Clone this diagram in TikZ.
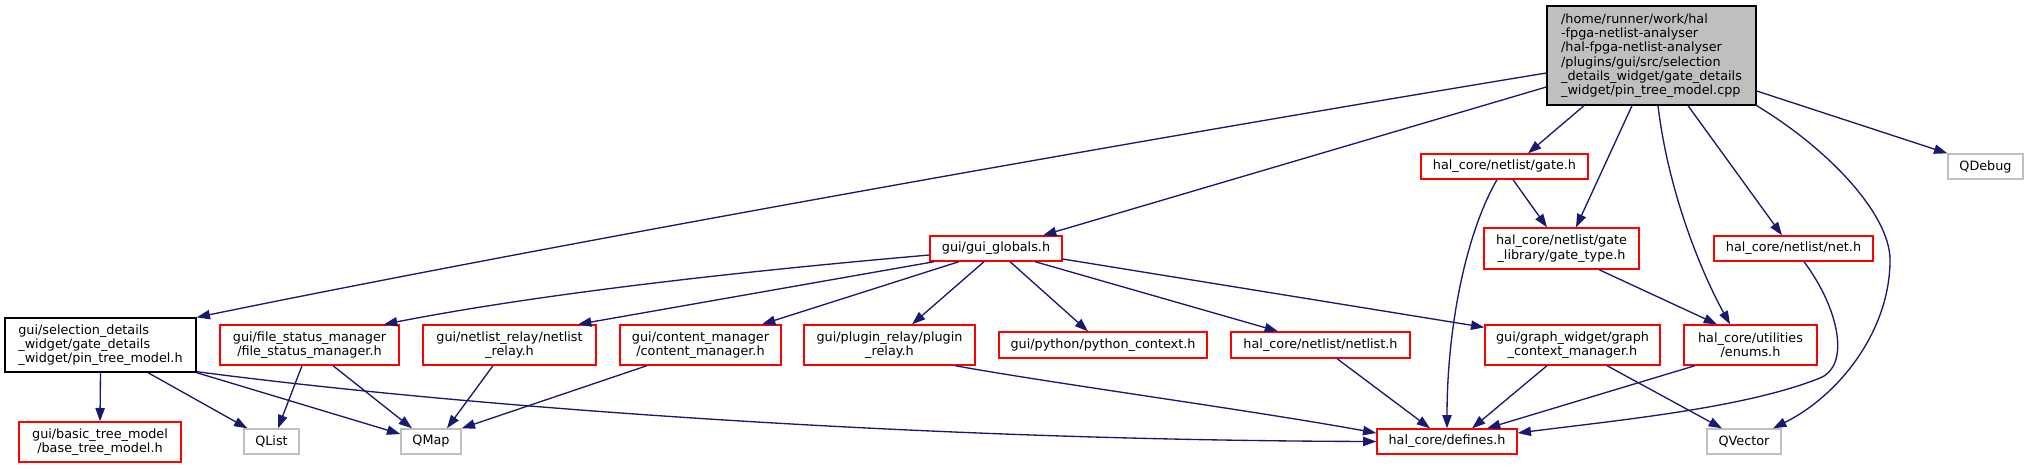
\documentclass[tikz,border=0pt]{standalone}
\usepackage{fontspec}
\setmainfont{DejaVu Sans}
\usetikzlibrary{arrows.meta,calc}
\definecolor{edgeblue}{HTML}{191970}
\definecolor{nodered}{HTML}{FF0000}
\definecolor{nodegray}{HTML}{BFBFBF}
\begin{document}
\begin{tikzpicture}[x=0.75pt,y=-0.75pt,
  every node/.style={font=\fontsize{9.6pt}{10.75pt}\selectfont, inner sep=0pt, line width=1pt},
  sz/.style 2 args={minimum width=#1*0.75pt, minimum height=#2*0.75pt},
  rbox/.style={draw=nodered, fill=white},
  gbox/.style={draw=nodegray, fill=white},
  kbox/.style={draw=black, fill=white},
  rootbox/.style={draw=black, fill=nodegray},
  dep/.style={draw=edgeblue, line width=1pt, -{Triangle[length=10pt,width=7pt]}}]
\useasboundingbox (0,0) rectangle (2029,468);

% nodes
\node[rootbox, sz={209}{99}, align=left] (root) at (1651.5,55.5) {/home/runner/work/hal\\-fpga-netlist-analyser\\/hal-fpga-netlist-analyser\\/plugins/gui/src/selection\\\_details\_widget/gate\_details\\\_widget/pin\_tree\_model.cpp};
\node[kbox, sz={191}{54}, align=left] (pin) at (100.5,345) {gui/selection\_details\\\_widget/gate\_details\\\_widget/pin\_tree\_model.h};
\node[rbox, sz={179}{40}, align=center] (fsm) at (309.5,345) {gui/file\_status\_manager\\/file\_status\_manager.h};
\node[rbox, sz={173}{40}, align=center] (nrelay) at (509.5,345) {gui/netlist\_relay/netlist\\\_relay.h};
\node[rbox, sz={161}{40}, align=center] (cman) at (700.5,345) {gui/content\_manager\\/content\_manager.h};
\node[rbox, sz={171}{40}, align=center] (prelay) at (889.5,345) {gui/plugin\_relay/plugin\\\_relay.h};
\node[rbox, sz={208}{26}] (pyctx) at (1103,345) {gui/python/python\_context.h};
\node[rbox, sz={179}{26}] (netlist) at (1320.5,345) {hal\_core/netlist/netlist.h};
\node[rbox, sz={175}{40}, align=center] (gctx) at (1572.5,345) {gui/graph\_widget/graph\\\_context\_manager.h};
\node[rbox, sz={133}{40}, align=center] (enums) at (1750.5,345) {hal\_core/utilities\\/enums.h};
\node[rbox, sz={132}{25}] (globals) at (996,248.5) {gui/gui\_globals.h};
\node[rbox, sz={167}{25}] (gate) at (1504.5,166.5) {hal\_core/netlist/gate.h};
\node[rbox, sz={155}{41}, align=center] (gtype) at (1561.5,248.5) {hal\_core/netlist/gate\\\_library/gate\_type.h};
\node[rbox, sz={159}{25}] (net) at (1793.5,248.5) {hal\_core/netlist/net.h};
\node[gbox, sz={75}{25}] (qdebug) at (1985.5,166.5) {QDebug};
\node[rbox, sz={162}{40}, align=center] (btree) at (100,442) {gui/basic\_tree\_model\\/base\_tree\_model.h};
\node[gbox, sz={55}{25}] (qlist) at (271.5,441.5) {QList};
\node[gbox, sz={60}{25}] (qmap) at (431,441.5) {QMap};
\node[rbox, sz={140}{25}] (defines) at (1447,441.5) {hal\_core/defines.h};
\node[gbox, sz={74}{25}] (qvector) at (1744,441.5) {QVector};

% edges from root
\draw[dep] ($(root.west)+(0,17.5)$) .. controls (1181,133) and (589,237) .. (pin.north east);
\draw[dep] ($(root.west)+(0,31.5)$) -- ($(globals.north)+(47,0)$);
\draw[dep] ($(root.south)+(-67.5,0)$) -- ($(gate.north)+(23.5,0)$);
\draw[dep] ($(root.south)+(-19.5,0)$) -- ($(gtype.north)+(14.5,0)$);
\draw[dep] ($(root.south)+(6.5,0)$) .. controls (1668,190) and (1700,270) .. ($(enums.north)+(-20.5,0)$);
\draw[dep] ($(root.south)+(36.5,0)$) -- ($(net.north)+(-11.5,0)$);
\draw[dep] (root.south east) .. controls (1830,150) and (1890,215) .. (1890,260) .. controls (1890,330) and (1840,395) .. ($(qvector.north)+(29,0)$);
\draw[dep] ($(root.east)+(0,35.5)$) -- (qdebug.north west);

% gate.h
\draw[dep] ($(gate.south)+(8.5,0)$) -- ($(gtype.north)+(-14.5,0)$);
\draw[dep] ($(gate.south)+(-7.5,0)$) .. controls (1465,235) and (1447,330) .. (defines.north);

% gui_globals
\draw[dep] ($(globals.west)+(0,6.5)$) .. controls (780,268) and (560,290) .. ($(fsm.north)+(74.5,0)$);
\draw[dep] ($(globals.south west)+(5,0)$) -- ($(nrelay.north)+(68.5,0)$);
\draw[dep] ($(globals.south)+(-37,0)$) -- ($(cman.north)+(61.5,0)$);
\draw[dep] ($(globals.south)+(-12,0)$) -- ($(prelay.north)+(22.5,0)$);
\draw[dep] ($(globals.south)+(14,0)$) -- ($(pyctx.north)+(-15,0)$);
\draw[dep] ($(globals.south)+(39,0)$) -- ($(netlist.north)+(-42.5,0)$);
\draw[dep] ($(globals.east)+(0,10.5)$) -- ($(gctx.north west)+(0,3)$);

% gate_type, net
\draw[dep] ($(gtype.south)+(37.5,0)$) -- ($(enums.north)+(-33.5,0)$);
\draw[dep] ($(net.south)+(10.5,0)$) .. controls (1840,310) and (1850,366) .. (1820,378) .. controls (1745,408) and (1620,420) .. ($(defines.east)+(0,-8.5)$);

% pin_tree_model.h
\draw[dep] (pin.south) -- (btree.north);
\draw[dep] ($(pin.south)+(47.5,0)$) -- ($(qlist.north west)+(4,0)$);
\draw[dep] (pin.south east) -- ($(qmap.west)+(0,-7.5)$);
\draw[dep] ($(pin.south east)+(0,-1)$) .. controls (450,405) and (900,440) .. (defines.west);

% second row
\draw[dep] ($(fsm.south)+(-7.5,0)$) -- ($(qlist.north)+(6.5,0)$);
\draw[dep] ($(fsm.south)+(23.5,0)$) -- ($(qmap.north)+(-19,0)$);
\draw[dep] ($(nrelay.south)+(-16.5,0)$) -- ($(qmap.north)+(16,0)$);
\draw[dep] ($(cman.south)+(-53.5,0)$) -- (qmap.north east);
\draw[dep] ($(prelay.south)+(65.5,0)$) .. controls (1050,383) and (1250,410) .. ($(defines.west)+(0,-8.5)$);
\draw[dep] ($(netlist.south)+(16.5,0)$) -- ($(defines.north)+(-17,0)$);
\draw[dep] ($(gctx.south)+(-25.5,0)$) -- ($(defines.north)+(25,0)$);
\draw[dep] ($(enums.south)+(-55.5,0)$) -- ($(defines.north)+(40,0)$);
\draw[dep] ($(gctx.south)+(34.5,0)$) -- ($(qvector.north)+(-22,0)$);
\end{tikzpicture}
\end{document}
